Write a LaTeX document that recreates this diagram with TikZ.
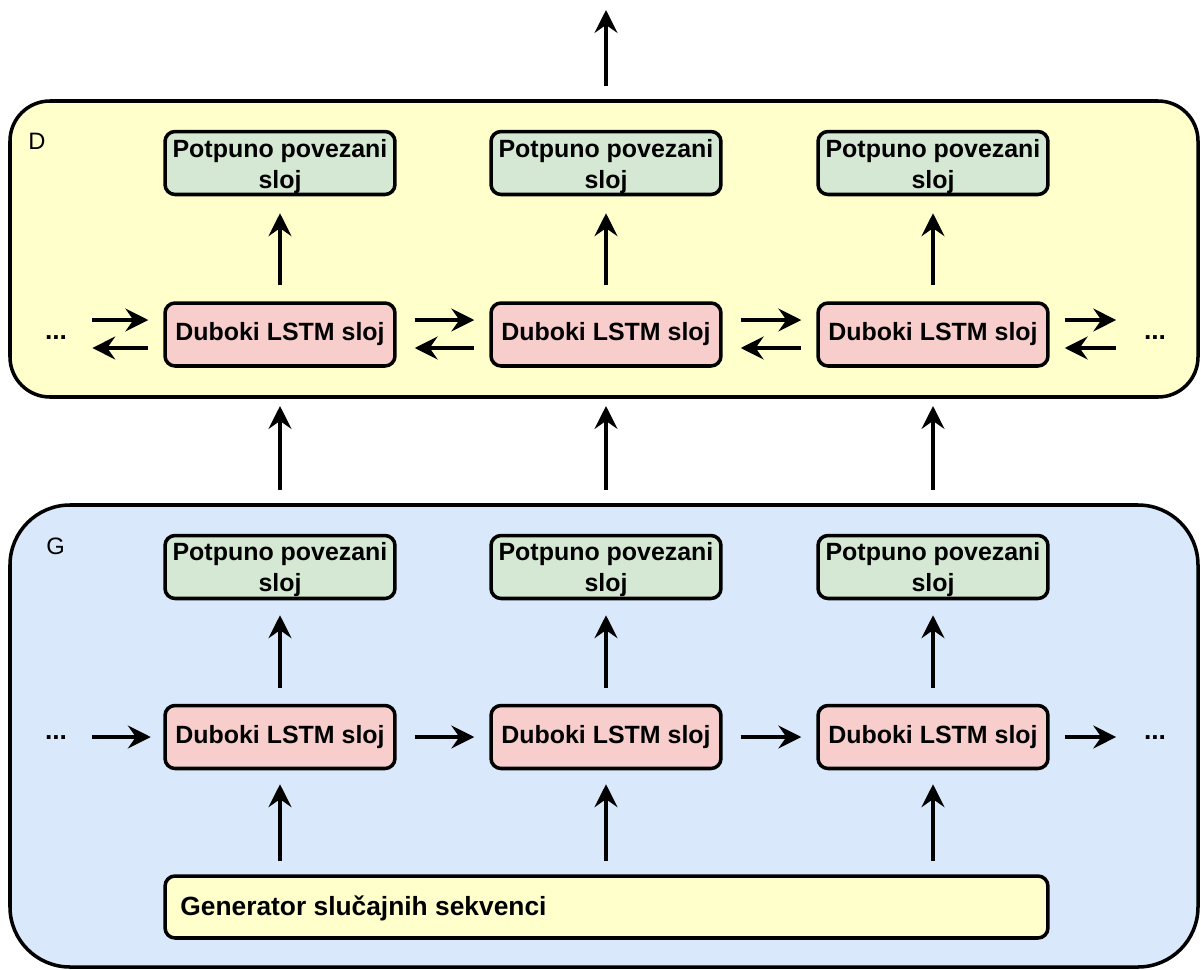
\documentclass[tikz,border=0pt]{standalone}
\usepackage{fontspec}
\setmainfont{Liberation Sans}
\usetikzlibrary{arrows.meta}
\definecolor{dyel}{HTML}{FFFFCC}
\definecolor{gblue}{HTML}{DAE8FC}
\definecolor{fcgreen}{HTML}{D5E8D4}
\definecolor{lstmred}{HTML}{F8CECC}
\tikzset{
  px/.style={x={(0.02cm,0)},y={(0,-0.02cm)}},
  container/.style={draw=black,line width=2pt},
  layerbox/.style={draw=black,line width=2pt,rounded corners=0.2cm,minimum width=4.6cm,minimum height=1.26cm,inner sep=0pt,align=center,font=\fontsize{14.2pt}{18pt}\selectfont\bfseries},
  fc/.style={layerbox,fill=fcgreen},
  lstm/.style={layerbox,fill=lstmred},
  fctext/.style={inner sep=0pt,align=center,font=\fontsize{14.2pt}{17.5pt}\selectfont\bfseries},
  conn/.style={line width=2.1pt,-{Triangle[length=13pt,width=13pt,inset=4.5pt]}},
  dots/.style={font=\fontsize{15pt}{16pt}\selectfont\bfseries,inner sep=0pt},
  lbl/.style={font=\fontsize{13.5pt}{14pt}\selectfont,inner sep=0pt}
}
\begin{document}
\begin{tikzpicture}[px]
\useasboundingbox (0,0) rectangle (1201,970);
% containers
\draw[container,fill=dyel,rounded corners=0.8cm] (10,101) rectangle (1198,397);
\draw[container,fill=gblue,rounded corners=1.2cm] (10,505) rectangle (1198,967);
\node[lbl,anchor=north west] (dlbl) at (28,133) {D};
\node[lbl,anchor=north west] (glbl) at (46,538) {G};
% layers
\foreach \i/\x in {1/280,2/606,3/933}{
  \node[fc] (dfc\i) at (\x,163) {};
  \node[fctext] (dfct\i) at (\x,166.5) {Potpuno povezani\\sloj};
  \node[lstm] (dl\i) at (\x,334.5) {Duboki LSTM sloj};
  \node[fc] (gfc\i) at (\x,567) {};
  \node[fctext] (gfct\i) at (\x,569.5) {Potpuno povezani\\sloj};
  \node[lstm] (gl\i) at (\x,737) {Duboki LSTM sloj};
  \coordinate (dupin\i) at (\x,490);
  \coordinate (dupout\i) at (\x,406);
  \coordinate (gin\i) at (\x,861);
}
\node[draw=black,line width=2pt,rounded corners=0.2cm,fill=dyel,minimum width=17.66cm,minimum height=1.24cm,inner sep=0pt] (gen) at (606.5,907) {};
\node[anchor=west,inner sep=0pt,font=\fontsize{15pt}{16pt}\selectfont\bfseries] (gentxt) at (180,908) {Generator slučajnih sekvenci};
\coordinate (topout) at (606,10);
\coordinate (dtop) at (606,86);
% dots
\node[dots] (dld) at (56,338) {...};
\node[dots] (drd) at (1155,338) {...};
\node[dots] (gld) at (56,738) {...};
\node[dots] (grd) at (1155,738) {...};
\coordinate (dldR) at (dld.east |- dl1.west);
\coordinate (drdL) at (drd.west |- dl3.east);
\coordinate (gldR) at (gld.east |- gl1.west);
\coordinate (grdL) at (grd.west |- gl3.east);
% vertical arrows
\foreach \i in {1,2,3}{
  \draw[conn] ([yshift=0.32cm]dl\i.north) -- ([yshift=-0.34cm]dfc\i.south);
  \draw[conn] ([yshift=0.32cm]gl\i.north) -- ([yshift=-0.3cm]gfc\i.south);
  \draw[conn] (dupin\i) -- (dupout\i);
  \draw[conn] (gin\i) -- ([yshift=-0.28cm]gl\i.south);
}
\draw[conn] (dtop) -- (topout);
% D horizontal arrows
\draw[conn] ([xshift=0.5cm,yshift=0.29cm]dldR) -- ([xshift=-0.3cm,yshift=0.29cm]dl1.west);
\draw[conn] ([xshift=-0.3cm,yshift=-0.27cm]dl1.west) -- ([xshift=0.5cm,yshift=-0.27cm]dldR);
\draw[conn] ([xshift=0.36cm,yshift=0.29cm]dl1.east) -- ([xshift=-0.3cm,yshift=0.29cm]dl2.west);
\draw[conn] ([xshift=-0.3cm,yshift=-0.27cm]dl2.west) -- ([xshift=0.36cm,yshift=-0.27cm]dl1.east);
\draw[conn] ([xshift=0.36cm,yshift=0.29cm]dl2.east) -- ([xshift=-0.3cm,yshift=0.29cm]dl3.west);
\draw[conn] ([xshift=-0.3cm,yshift=-0.27cm]dl3.west) -- ([xshift=0.36cm,yshift=-0.27cm]dl2.east);
\draw[conn] ([xshift=0.3cm,yshift=0.29cm]dl3.east) -- ([xshift=-0.55cm,yshift=0.29cm]drdL);
\draw[conn] ([xshift=-0.55cm,yshift=-0.27cm]drdL) -- ([xshift=0.3cm,yshift=-0.27cm]dl3.east);
% G horizontal arrows
\draw[conn] ([xshift=0.5cm]gldR) -- ([xshift=-0.25cm]gl1.west);
\draw[conn] ([xshift=0.36cm]gl1.east) -- ([xshift=-0.3cm]gl2.west);
\draw[conn] ([xshift=0.36cm]gl2.east) -- ([xshift=-0.3cm]gl3.west);
\draw[conn] ([xshift=0.3cm]gl3.east) -- ([xshift=-0.55cm]grdL);
\end{tikzpicture}
\end{document}
